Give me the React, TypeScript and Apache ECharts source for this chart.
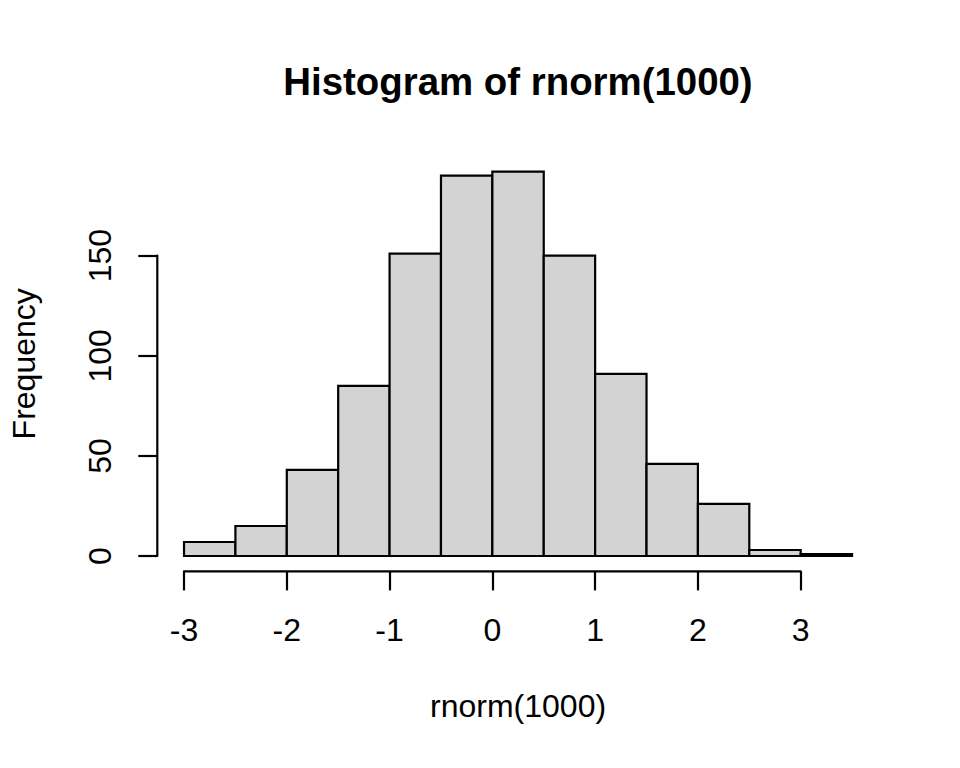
import React, { useEffect, useRef } from "react";
import * as echarts from "echarts";

// ---- data ----
const binStarts = [-3, -2.5, -2, -1.5, -1, -0.5, 0, 0.5, 1, 1.5, 2, 2.5, 3];
const binWidth = 0.5;
const counts = [7, 15, 43, 85, 151, 190, 192, 150, 91, 46, 26, 3, 1];
const xTicks = [-3, -2, -1, 0, 1, 2, 3];
const yTicks = [0, 50, 100, 150];
const titleText = "Histogram of rnorm(1000)";
const xLabel = "rnorm(1000)";
const yLabel = "Frequency";

const FONT = "'Liberation Sans', Arial, Helvetica, sans-serif";

export default function App() {
  const ref = useRef<HTMLDivElement>(null);

  useEffect(() => {
    if (!ref.current) return;
    const chart = echarts.init(ref.current, undefined, { renderer: "svg" });

    // R-style 4% axis extension
    const xLo = binStarts[0];
    const xHi = binStarts[binStarts.length - 1] + binWidth;
    const xPad = (xHi - xLo) * 0.04;
    const yHi = Math.max(...counts);
    const yPad = yHi * 0.04;
    const xMin = xLo - xPad;
    const xMax = xHi + xPad;
    const yMin = 0 - yPad;
    const yMax = yHi + yPad;

    const barData = binStarts.map((s, i) => [s, s + binWidth, counts[i]]);

    const renderBar = (params: any, api: any) => {
      const p0 = api.coord([api.value(0), 0]);
      const p1 = api.coord([api.value(1), api.value(2)]);
      return {
        type: "rect",
        shape: { x: p0[0], y: p1[1], width: p1[0] - p0[0], height: p0[1] - p1[1] },
        style: { fill: "#D3D3D3", stroke: "#000", lineWidth: 2.2 },
      };
    };

    const renderAxes = (params: any, api: any) => {
      const a = api.coord([xTicks[0], yMin]);
      const b = api.coord([xTicks[xTicks.length - 1], yMin]);
      const c = api.coord([xMin, yTicks[0]]);
      const d = api.coord([xMin, yTicks[yTicks.length - 1]]);
      const st = { stroke: "#000", lineWidth: 2.2, lineCap: "round" };
      return {
        type: "group",
        children: [
          { type: "line", shape: { x1: a[0], y1: a[1], x2: b[0], y2: b[1] }, style: st },
          { type: "line", shape: { x1: c[0], y1: c[1], x2: d[0], y2: d[1] }, style: st },
        ],
      };
    };

    chart.setOption({
      animation: false,
      backgroundColor: "#fff",
      graphic: [
        {
          type: "text",
          x: 518,
          y: 81.5,
          style: {
            text: titleText,
            font: `bold 38.4px ${FONT}`,
            fill: "#000",
            textAlign: "center",
            textVerticalAlign: "middle",
          },
        },
      ],
      grid: { left: 157.3, top: 156.2, width: 721.5, height: 415.2 },
      xAxis: {
        type: "value",
        min: xMin,
        max: xMax,
        axisLine: { show: false, onZero: false },
        splitLine: { show: false },
        axisTick: {
          show: true,
          inside: false,
          customValues: xTicks,
          length: 19,
          lineStyle: { color: "#000", width: 2.2 },
        },
        axisLabel: {
          customValues: xTicks,
          color: "#000",
          fontSize: 32,
          fontFamily: FONT,
          margin: 43,
        },
        name: xLabel,
        nameLocation: "middle",
        nameGap: 119,
        nameTextStyle: { color: "#000", fontSize: 32, fontFamily: FONT },
      },
      yAxis: {
        type: "value",
        min: yMin,
        max: yMax,
        axisLine: { show: false, onZero: false },
        splitLine: { show: false },
        axisTick: {
          show: true,
          inside: false,
          customValues: yTicks,
          length: 19,
          lineStyle: { color: "#000", width: 2.2 },
        },
        axisLabel: {
          customValues: yTicks,
          color: "#000",
          fontSize: 32,
          fontFamily: FONT,
          rotate: 90,
          margin: 41,
        },
        name: yLabel,
        nameLocation: "middle",
        nameRotate: 90,
        nameGap: 117,
        nameTextStyle: { color: "#000", fontSize: 32, fontFamily: FONT },
      },
      series: [
        {
          type: "custom",
          renderItem: renderBar,
          data: barData,
          encode: { x: [0, 1], y: 2 },
          silent: true,
        },
        {
          type: "custom",
          renderItem: renderAxes,
          data: [[0, 0]],
          silent: true,
        },
      ],
    });

    return () => chart.dispose();
  }, []);

  return (
    <div
      ref={ref}
      style={{ position: "fixed", left: 0, top: 0, width: 960, height: 768, background: "#fff" }}
    />
  );
}
